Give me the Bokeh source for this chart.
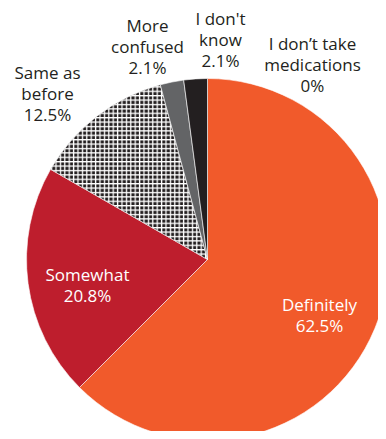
import math
from bokeh.plotting import figure
from bokeh.models import Range1d
from bokeh.core.properties import value
from bokeh.embed import file_html
from bokeh.resources import INLINE

categories = ["Definitely", "Somewhat", "Same as before", "More confused", "I don't know", "I don\u2019t take medications"]
percents = [62.5, 20.8, 12.5, 2.1, 2.1, 0.0]
colors = ["#F15A2B", "#BE1E2D", "#231F20", "#636466", "#231F20", "#FFFFFF"]
label_lines = [
    ["Definitely", "62.5%"],
    ["Somewhat", "20.8%"],
    ["Same as", "before", "12.5%"],
    ["More", "confused", "2.1%"],
    ["I don't", "know", "2.1%"],
    ["I don\u2019t take", "medications", "0%"],
]

# layout (screen pixels)
W, H = 378, 431
CX, CY, R = 207, 259, 181
label_pos = [(319, 304), (87, 274), (47, 72), (147, 25), (220, 18), (312, 43)]
label_color = ["#FFFFFF", "#FFFFFF", "#231F20", "#231F20", "#231F20", "#231F20"]
LINE_H = 21

p = figure(width=W, height=H, output_backend="svg", toolbar_location=None,
           x_axis_location=None, y_axis_location=None, min_border=0,
           x_range=Range1d(0, W), y_range=Range1d(-H, 0))
p.grid.visible = False
p.outline_line_color = None
p.background_fill_color = "white"

total = sum(percents)
cum = 0.0
starts, ends = [], []
for v in percents:
    a0 = 90 - cum / total * 360
    cum += v
    a1 = 90 - cum / total * 360
    starts.append(math.radians(a1))
    ends.append(math.radians(a0))

hatched = [False, False, True, False, False, False]
for i in range(len(categories)):
    if percents[i] <= 0:
        continue
    kw = {}
    if hatched[i]:
        kw = dict(hatch_pattern="+", hatch_color="white", hatch_scale=4.4, hatch_weight=1.3)
    p.wedge(x=CX, y=-CY, radius=R, start_angle=starts[i], end_angle=ends[i],
            fill_color=colors[i], line_color="white", line_width=0.6, **kw)

for i, lines in enumerate(label_lines):
    x, y = label_pos[i]
    n = len(lines)
    xs = [x] * n
    ys = [-(y + k * LINE_H) for k in range(n)]
    p.text(x=xs, y=ys, text=lines, text_font=value("Open Sans"), text_font_size="17px",
           text_align="center", text_baseline="middle", text_color=label_color[i])

open("out.html", "w").write(file_html(p, INLINE))
